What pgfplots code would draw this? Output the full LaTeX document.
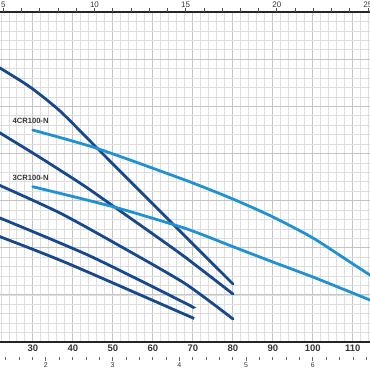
\documentclass[border=0pt]{standalone}
\usepackage{pgfplots}
\pgfplotsset{compat=1.18}
\usepackage{fontspec}
\setmainfont{Liberation Sans}
\definecolor{darkblue}{RGB}{24,72,140}
\definecolor{lightblue}{RGB}{32,146,210}
\definecolor{majgrid}{RGB}{196,196,196}
\definecolor{mingrid}{RGB}{222,222,222}
\definecolor{labgray}{RGB}{55,55,55}

\pgfplotstableread{
x y
20 29.5
21.8 29.06
29.3 27.05
36.8 24.50
45.8 20.68
63.05 13.36
80.05 6.15
}\curveA
\pgfplotstableread{
x y
20 22.6
21.8 22.17
31.8 19.57
42.55 16.65
50.05 14.43
59.3 11.67
68.05 9.01
80.05 5.09
}\curveB
\pgfplotstableread{
x y
20 16.9
21.8 16.60
36.8 13.68
51.8 10.18
68.05 6.20
80.05 2.44
}\curveC
\pgfplotstableread{
x y
20 13.4
21.8 13.15
44.3 9.12
68.05 4.14
70 3.66
}\curveD
\pgfplotstableread{
x y
20 11.4
21.8 11.17
38.5 8.38
68.05 2.92
70 2.55
}\curveE
\pgfplotstableread{
x y
30 22.48
45.8 20.57
68.05 17.18
80.05 15.16
90.05 13.26
100.05 11.03
109.3 8.48
114.3 7.10
116 6.6
}\curveF
\pgfplotstableread{
x y
30 16.47
50.05 14.35
68.05 12.06
80.05 10.11
90.05 8.48
100.05 6.89
114.3 4.45
116 4.1
}\curveG

\begin{document}
\begin{tikzpicture}
\useasboundingbox (0pt,-28pt) rectangle (370pt,342pt);
% main axis
\begin{axis}[
  at={(0pt,0pt)}, anchor=south west,
  width=370pt, height=330pt, scale only axis,
  xmin=21.8, xmax=114.3, ymin=0, ymax=35,
  separate axis lines,
  x axis line style={line width=1.3pt, draw=black!85},
  y axis line style={draw=none},
  xtick={30,40,...,110}, minor xtick={22,24,...,114},
  ytick={0,5,...,35}, minor ytick={0,1,...,35},
  yticklabels={},
  major tick length=0pt, minor tick length=0pt,
  xtick pos=left,
  grid=both,
  major grid style={draw=majgrid, line width=0.9pt},
  minor grid style={draw=mingrid, line width=0.6pt},
  /pgf/number format/assume math mode=true,
  xticklabel style={font=\fontsize{9.5}{10}\selectfont\bfseries, text=labgray, anchor=north, inner sep=2.8pt},
  every axis plot/.append style={line width=2.8pt, line cap=round, smooth, tension=0.4},
]
\addplot[darkblue] table {\curveA};
\addplot[darkblue] table {\curveB};
\addplot[darkblue] table {\curveC};
\addplot[darkblue] table {\curveD};
\addplot[darkblue] table {\curveE};
\addplot[lightblue] table {\curveF};
\addplot[lightblue] table {\curveG};
\node[anchor=west, inner sep=0pt, text=labgray, font=\fontsize{7.6}{8}\selectfont\bfseries] at (axis cs:24.9,23.4) {4CR100-N};
\node[anchor=west, inner sep=0pt, text=labgray, font=\fontsize{7.6}{8}\selectfont\bfseries] at (axis cs:24.9,17.39) {3CR100-N};
\end{axis}
% top axis (gpm)
\begin{axis}[
  at={(0pt,0pt)}, anchor=south west,
  width=370pt, height=330pt, scale only axis,
  xmin=4.819, xmax=25.115, ymin=0, ymax=35,
  axis line style={draw=none},
  xtick={5,10,...,25}, minor xtick={5,6,...,25},
  ytick=\empty,
  xtick pos=right, xticklabel pos=right,
  tick align=outside,
  major tick length=3.5pt, minor tick length=3.5pt,
  tick style={draw=black!70, line width=0.6pt},
  /pgf/number format/assume math mode=true,
  xticklabel style={font=\fontsize{8}{9}\selectfont, text=labgray, inner sep=0.8pt},
]
\end{axis}
% bottom secondary axis (m3/h)
\begin{axis}[
  at={(0pt,-15pt)}, anchor=south west,
  width=370pt, height=10pt, scale only axis,
  xmin=1.3154, xmax=6.858, ymin=0, ymax=1,
  axis line style={draw=none},
  xtick={2,3,...,6}, minor xtick={1.4,1.6,...,6.8},
  ytick=\empty,
  xtick pos=left, xticklabel pos=left,
  tick align=outside,
  major tick length=4pt, minor tick length=3.5pt,
  tick style={draw=black!60, line width=0.5pt},
  /pgf/number format/assume math mode=true,
  xticklabel style={font=\fontsize{7}{8}\selectfont, text=labgray, inner sep=1.5pt},
]
\end{axis}
\end{tikzpicture}
\end{document}
